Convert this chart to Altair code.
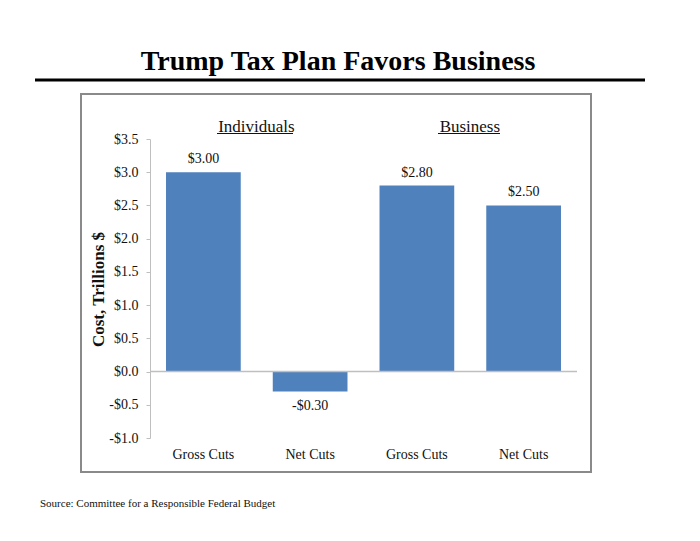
import altair as alt
import pandas as pd

groups = ["Individuals", "Individuals", "Business", "Business"]
cut_types = ["Gross Cuts", "Net Cuts", "Gross Cuts", "Net Cuts"]
values = [3.00, -0.30, 2.80, 2.50]
y_ticks = [-1.0, -0.5, 0.0, 0.5, 1.0, 1.5, 2.0, 2.5, 3.0, 3.5]
title_text = "Trump Tax Plan Favors Business"
y_title = "Cost, Trillions $"
source_text = "Source: Committee for a Responsible Federal Budget"

keys = [f"{g}|{c}" for g, c in zip(groups, cut_types)]
labels = [("-" if v < 0 else "") + "$" + f"{abs(v):.2f}" for v in values]
df = pd.DataFrame({"key": keys, "group": groups, "cut": cut_types,
                   "value": values, "label": labels})

FONT = "Liberation Serif"
TXT = "#111111"
BLUE = "#4f81bd"
GRAY = "#bfbfbf"

W, H = 427, 299

xaxis = alt.Axis(title=None, domain=False, ticks=False,
                 labelAngle=0, labelPadding=9, labelFontSize=14,
                 labelFont=FONT, labelColor=TXT,
                 labelExpr="split(datum.label, '|')[1]")
xscale = alt.Scale(paddingInner=0.3, paddingOuter=0.15)
xenc = alt.X("key:N", sort=keys, scale=xscale, axis=xaxis)

yscale = alt.Scale(domain=[-1.0, 3.5], nice=False, zero=False)
yaxis = alt.Axis(title=y_title, values=y_ticks, grid=False,
                 labelOverlap=False,
                 domainColor=GRAY, tickColor=GRAY, tickSize=4,
                 labelPadding=8, labelFontSize=14, labelFont=FONT,
                 labelColor=TXT,
                 labelExpr="(datum.value < 0 ? '-' : '') + '$' + format(abs(datum.value), '.1f')",
                 titleFont=FONT, titleFontSize=17, titleFontWeight="bold",
                 titleColor=TXT, titleX=-52, titleY=150,
                 titleAlign="center", titleBaseline="middle")
yenc = alt.Y("value:Q", scale=yscale, axis=yaxis)

base = alt.Chart(df)

bars = base.mark_bar(color=BLUE).encode(x=xenc, y=yenc)

zero = alt.Chart(pd.DataFrame({"value": [0.0]})).mark_rule(
    color=GRAY, strokeWidth=1.5).encode(y=yenc)

pos_lbl = base.transform_filter("datum.value >= 0").mark_text(
    font=FONT, fontSize=14, color=TXT, baseline="bottom", dy=-6
).encode(x=xenc, y=yenc, text="label:N")

neg_lbl = base.transform_filter("datum.value < 0").mark_text(
    font=FONT, fontSize=14, color=TXT, baseline="top", dy=8
).encode(x=xenc, y=yenc, text="label:N")

grp_df = pd.DataFrame({"key": [keys[0], keys[2]], "group": [groups[0], groups[2]]})
grp_lbl = alt.Chart(grp_df).mark_text(
    font=FONT, fontSize=17, color=TXT, baseline="alphabetic", dx=53
).encode(x=xenc, y=alt.value(-7.5), text="group:N")

one = pd.DataFrame({"a": [0]})
ul1 = alt.Chart(one).mark_rule(color=TXT, strokeWidth=1).encode(
    x=alt.value(67), x2=alt.value(143), y=alt.value(-5.5))
ul2 = alt.Chart(one).mark_rule(color=TXT, strokeWidth=1).encode(
    x=alt.value(288), x2=alt.value(350), y=alt.value(-5.5))

box = alt.Chart(one).mark_rect(
    fill=None, stroke="#8a8a8a", strokeWidth=2
).encode(x=alt.value(-69), x2=alt.value(441), y=alt.value(-45), y2=alt.value(333))

title = alt.Chart(pd.DataFrame({"t": [title_text]})).mark_text(
    font=FONT, fontSize=28, fontWeight="bold", color="#000000",
    align="center", baseline="alphabetic"
).encode(x=alt.value(188), y=alt.value(-69), text="t:N")

title_rule = alt.Chart(one).mark_rule(
    color="#000000", strokeWidth=3
).encode(x=alt.value(-115), x2=alt.value(495), y=alt.value(-59))

source = alt.Chart(pd.DataFrame({"t": [source_text]})).mark_text(
    font=FONT, fontSize=11, color=TXT, align="left", baseline="alphabetic"
).encode(x=alt.value(-110), y=alt.value(368), text="t:N")

chart = alt.layer(
    bars, zero, pos_lbl, neg_lbl, grp_lbl, box, title, title_rule, source, ul1, ul2
).properties(
    width=W, height=H,
    autosize=alt.AutoSizeParams(type="none"),
    padding={"left": 150, "top": 139, "right": 123, "bottom": 103},
    background="white"
).configure_view(stroke=None)

chart.save("out.html", embed_options={"renderer": "svg", "actions": False})
